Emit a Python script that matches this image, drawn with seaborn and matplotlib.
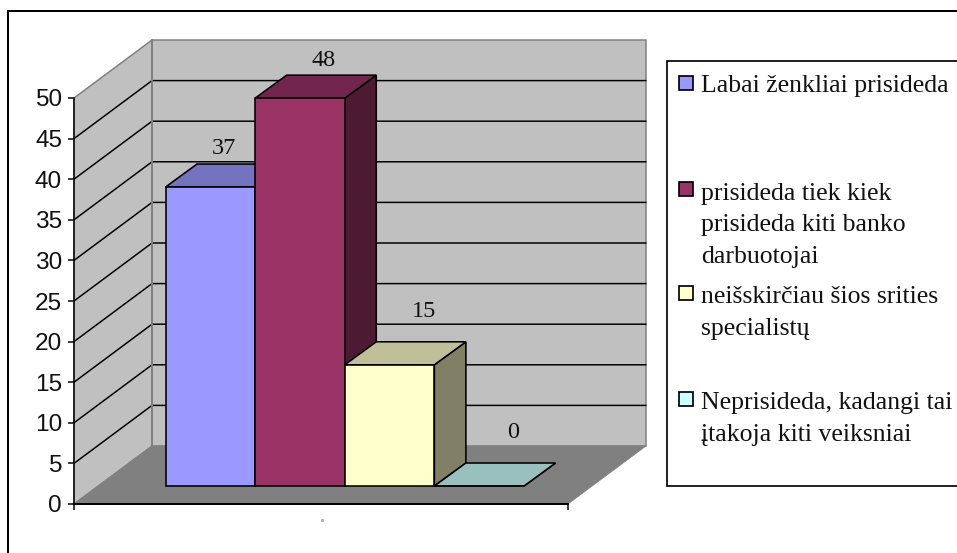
import matplotlib
matplotlib.use("Agg")
import matplotlib.pyplot as plt
from matplotlib.patches import Polygon, Rectangle
import pandas as pd
import seaborn as sns

# Survey answers and their shares
categories = [
    "Labai ženkliai prisideda",
    "prisideda tiek kiek\nprisideda kiti banko\ndarbuotojai",
    "neišskirčiau šios srities\nspecialistų",
    "Neprisideda, kadangi tai\nįtakoja kiti veiksniai",
]
values = [37, 48, 15, 0]
value_ticks = list(range(0, 55, 5))
colors = ["#9999FF", "#993366", "#FFFFCC", "#CCFFFF"]

# Label offsets from the top of each bar's front face, in pixels
label_offsets = [(14, 39), (24, 38), (34, 53), (34, 53)]
# Baseline of each legend entry's last line and the centre of its swatch, in pixels
legend_baselines = [92, 263, 335, 441]
legend_swatch_y = [83, 189, 293, 399]

W, H = 957, 553
PX_PER_UNIT = 406 / 50
BAR_PX_PER_UNIT = 404 / 50
SERIF = "Liberation Serif"
SANS = "Liberation Sans"

sns.set_theme(style="white")
plt.rcParams["font.family"] = [SERIF, "DejaVu Sans"]


def px_rect(left, top, width, height):
    return [left / W, (H - top - height) / H, width / W, height / H]


def shade(hex_color, factor):
    r, g, b = matplotlib.colors.to_rgb(hex_color)
    return (r * factor, g * factor, b * factor)


fig = plt.figure(figsize=(W / 100, H / 100), dpi=100, facecolor="white")
px = 1 / 100 * 72  # one pixel in points

# Full-figure layer for the chart frame and the legend
canvas = fig.add_axes([0, 0, 1, 1], zorder=0)
canvas.set_xlim(0, W)
canvas.set_ylim(H, 0)
canvas.axis("off")
canvas.add_patch(Rectangle((8, 11), W + 20, H + 20, fc="white", ec="black", lw=2 * px))
canvas.add_patch(Rectangle((667, 61), W, 425, fc="white", ec="black", lw=1.7 * px))
for label, color, base, swatch in zip(categories, colors, legend_baselines, legend_swatch_y):
    canvas.add_patch(Rectangle((678.5, swatch - 7), 14, 14, fc=color, ec="black", lw=1.7 * px))
    canvas.text(701, base, label, family=SERIF, fontsize=18.5, color="#111111",
                va="baseline", ha="left", linespacing=1.56)

# Value axis with the walls and floor of the box behind the bars
box = fig.add_axes(px_rect(74, 98, 494, 406), zorder=1)
box.patch.set_alpha(0)
box.set_xlim(0, 494)
box.set_ylim(0, 50)
wall_dx, wall_dy = 78, 58 / PX_PER_UNIT
gray_edge = dict(ec="#808080", lw=1.5 * px, clip_on=False)
box.add_patch(Polygon([(wall_dx, wall_dy), (494 + wall_dx, wall_dy),
                       (494 + wall_dx, 50 + wall_dy), (wall_dx, 50 + wall_dy)],
                      fc="#C0C0C0", zorder=1, **gray_edge))
box.add_patch(Polygon([(0, 0), (wall_dx, wall_dy), (wall_dx, 50 + wall_dy), (0, 50)],
                      fc="#C0C0C0", zorder=1, **gray_edge))
box.add_patch(Polygon([(0, 0), (494, 0), (494 + wall_dx, wall_dy), (wall_dx, wall_dy)],
                      fc="#808080", ec="#808080", lw=0.5, zorder=1, clip_on=False))
for v in value_ticks[1:-1]:
    box.plot([0, wall_dx, 494 + wall_dx], [v, v + wall_dy, v + wall_dy],
             color="black", lw=1.5 * px, zorder=2, clip_on=False, solid_joinstyle="miter")
box.plot([wall_dx, wall_dx], [wall_dy, 50 + wall_dy], color="#808080", lw=2 * px,
         zorder=3, clip_on=False)
box.set_yticks(value_ticks)
box.set_yticklabels([str(v) for v in value_ticks], family=SANS, fontsize=17.6, color="#111111")
box.set_xticks([0, 494])
box.set_xticklabels(["", ""])
box.tick_params(axis="both", direction="out", length=6 * px, width=1.5 * px, color="black",
                left=True, bottom=True)
box.tick_params(axis="y", pad=6 * px)
sns.despine(ax=box)
for side in ("left", "bottom"):
    box.spines[side].set_color("black")
    box.spines[side].set_zorder(4)
box.spines["left"].set_linewidth(1.5 * px)
box.spines["bottom"].set_linewidth(2 * px)
box.plot([248], [-2], marker="s", ms=1.2, color="#B0B0B0", clip_on=False)

# Bars: the front faces come from seaborn, depth is added from each bar's own geometry
bars_ax = fig.add_axes(px_rect(165.5, 82, 358.5, 404), zorder=2)
bars_ax.patch.set_alpha(0)
df = pd.DataFrame({"answer": categories, "share": values})
sns.barplot(data=df, x="answer", y="share", hue="answer", hue_order=categories,
            palette=colors, width=1, saturation=1, legend=False, ax=bars_ax)
bars_ax.set_xlim(-0.5, 3.5)
bars_ax.set_ylim(0, 50)
bars_ax.axis("off")

depth_x, depth_y = 31.5 / 89.6, 23 / BAR_PX_PER_UNIT
edge = dict(ec="black", lw=1.6 * px, clip_on=False, joinstyle="miter")
for i, (container, value, color, offset) in enumerate(
        zip(bars_ax.containers, values, colors, label_offsets)):
    bar = container[0]
    x0, x1 = bar.get_x(), bar.get_x() + bar.get_width()
    top = bar.get_height()
    bar.set(edgecolor="black", linewidth=1.6 * px, clip_on=False, zorder=3 * i + 3)
    bars_ax.add_patch(Polygon([(x1, 0), (x1 + depth_x, depth_y), (x1 + depth_x, top + depth_y), (x1, top)],
                              fc=shade(color, 0.5), zorder=3 * i + 1, **edge))
    bars_ax.add_patch(Polygon([(x0, top), (x1, top), (x1 + depth_x, top + depth_y), (x0 + depth_x, top + depth_y)],
                              fc=shade(color, 0.75), zorder=3 * i + 2, **edge))
    bars_ax.annotate(str(value), ((x0 + x1) / 2, top), xytext=(offset[0] * px, offset[1] * px),
                     textcoords="offset points", ha="center", va="center",
                     family=SERIF, fontsize=17.5, color="#111111", zorder=50,
                     annotation_clip=False)

fig.savefig("out.png", dpi=100)
